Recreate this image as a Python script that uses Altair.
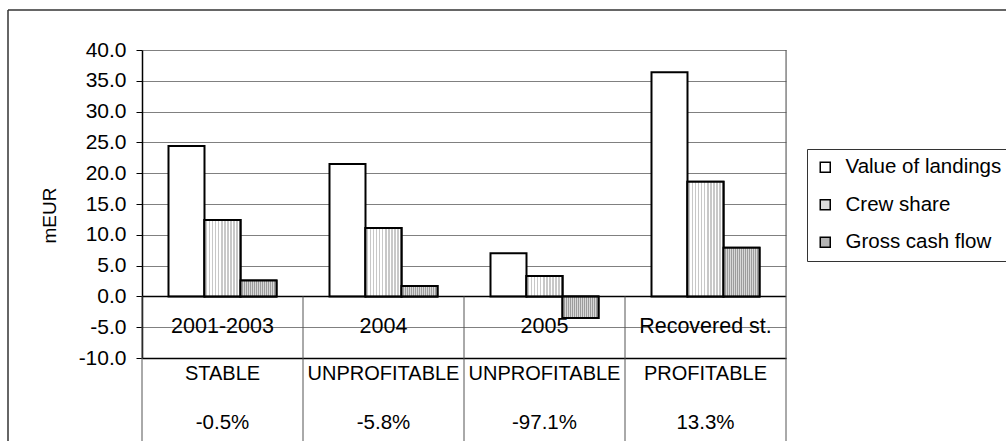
import altair as alt
import pandas as pd

# ---- data ----
categories = ["2001-2003", "2004", "2005", "Recovered st."]
status = ["STABLE", "UNPROFITABLE", "UNPROFITABLE", "PROFITABLE"]
change = ["-0.5%", "-5.8%", "-97.1%", "13.3%"]
series = ["Value of landings", "Crew share", "Gross cash flow"]
value_of_landings = [24.4, 21.5, 7.0, 36.4]
crew_share = [12.4, 11.1, 3.3, 18.6]
gross_cash_flow = [2.6, 1.7, -3.5, 7.9]
y_ticks = [-10, -5, 0, 5, 10, 15, 20, 25, 30, 35, 40]

rows = []
for s, vals in zip(series, [value_of_landings, crew_share, gross_cash_flow]):
    for c, v in zip(categories, vals):
        rows.append({"cat": c, "series": s, "v": v})
bars_df = pd.DataFrame(rows)
table_df = pd.DataFrame({"cat": categories, "status": status, "change": change})
one = pd.DataFrame({"k": [0]})

FONT = "Liberation Sans"
W, H = 644, 308


def stripes(c1, c2, n):
    stops = []
    for k in range(n):
        a, m, b = k / n, (k + 0.5) / n, (k + 1) / n
        stops += [alt.GradientStop(offset=a, color=c1), alt.GradientStop(offset=m, color=c1),
                  alt.GradientStop(offset=m, color=c2), alt.GradientStop(offset=b, color=c2)]
    return alt.LinearGradient(gradient="linear", x1=0, y1=0, x2=1, y2=0, stops=stops)


x_enc = alt.X("cat:N", scale=alt.Scale(domain=categories, paddingInner=0, paddingOuter=0),
              axis=alt.Axis(labels=False, ticks=False, title=None, grid=False,
                            domainColor="black", domainWidth=1.5))
xoff = alt.XOffset("series:N", scale=alt.Scale(domain=series, paddingInner=0, paddingOuter=0.736))
y_enc = alt.Y("v:Q", scale=alt.Scale(domain=[-10, 40], nice=False, zero=False),
              axis=alt.Axis(values=y_ticks, tickCount=11, labelOverlap=False,
                            labelExpr="replace(format(datum.value, '.1f'), '\u2212', '-')",
                            title="mEUR", titleX=-93, titleY=165, titleAngle=270,
                            titleAlign="center", titleBaseline="middle",
                            titleFont=FONT, titleFontSize=19, titleFontWeight="normal",
                            titleColor="black",
                            labelFont=FONT, labelFontSize=21, labelColor="black",
                            labelPadding=10, tickSize=6, tickColor="black",
                            domainColor="black", domainWidth=1.5,
                            grid=True, gridColor="#808080", gridWidth=1))

base_bars = alt.Chart(bars_df).mark_bar(stroke="black", strokeWidth=2).encode(
    x=x_enc, xOffset=xoff, y=y_enc, y2=alt.datum(0),
    fill=alt.Fill("series:N",
                  scale=alt.Scale(domain=series, range=["white", "#dcdcdc", "#b4b4b4"]),
                  legend=alt.Legend(title=None, orient="none", legendX=665, legendY=99,
                                    symbolType="square", symbolSize=100,
                                    symbolStrokeColor="black", symbolStrokeWidth=1.5,
                                    labelFont=FONT, labelFontSize=20.5, labelColor="black",
                                    labelOffset=10, rowPadding=16.5, padding=8,
                                    strokeColor="#333333", fillColor="white")),
)

crew_bars = alt.Chart(bars_df).transform_filter(alt.datum.series == "Crew share").mark_bar(
    stroke="black", strokeWidth=2, fill=stripes("#ffffff", "#c8c8c8", 12)
).encode(x="cat:N", xOffset="series:N", y="v:Q", y2=alt.datum(0))

gcf_bars = alt.Chart(bars_df).transform_filter(alt.datum.series == "Gross cash flow").mark_bar(
    stroke="black", strokeWidth=2, fill=stripes("#d8d8d8", "#9c9c9c", 18)
).encode(x="cat:N", xOffset="series:N", y="v:Q", y2=alt.datum(0))

zero_line = alt.Chart(one).mark_rule(color="black", strokeWidth=1.5).encode(
    y=alt.datum(0), x=alt.value(0), x2=alt.value(W))

dividers = alt.Chart(table_df).mark_rule(color="#555555", strokeWidth=1).encode(
    x=alt.X("cat:N", bandPosition=0), y=alt.datum(0), y2=alt.value(400))
right_edge = alt.Chart(one).mark_rule(color="#555555", strokeWidth=1).encode(
    x=alt.value(W), y=alt.value(0), y2=alt.value(400))

cat_labels = alt.Chart(table_df).mark_text(font=FONT, fontSize=21.5, color="black",
                                           baseline="middle").encode(
    x="cat:N", y=alt.datum(-5), text="cat:N")
status_labels = alt.Chart(table_df).mark_text(font=FONT, fontSize=20, color="black",
                                              baseline="middle").encode(
    x="cat:N", y=alt.value(324), text="status:N")
change_labels = alt.Chart(table_df).mark_text(font=FONT, fontSize=20.5, color="black",
                                              baseline="middle").encode(
    x="cat:N", y=alt.value(373), text="change:N")

frame_top = alt.Chart(one).mark_rule(color="#333333", strokeWidth=1.5).encode(
    x=alt.value(-134), x2=alt.value(880), y=alt.value(-40))
frame_left = alt.Chart(one).mark_rule(color="#333333", strokeWidth=1.5).encode(
    x=alt.value(-134), y=alt.value(-40), y2=alt.value(400))

chart = alt.layer(
    base_bars, crew_bars, gcf_bars, zero_line, dividers, right_edge,
    cat_labels, status_labels, change_labels, frame_top, frame_left
).properties(
    width=W, height=H,
    autosize=alt.AutoSizeParams(type="none"),
    padding={"left": 142, "top": 50, "right": 220, "bottom": 83},
).configure_view(stroke="#333333", strokeWidth=1).configure(background="white")

chart.save("out.html", embed_options={"renderer": "svg", "actions": False})
